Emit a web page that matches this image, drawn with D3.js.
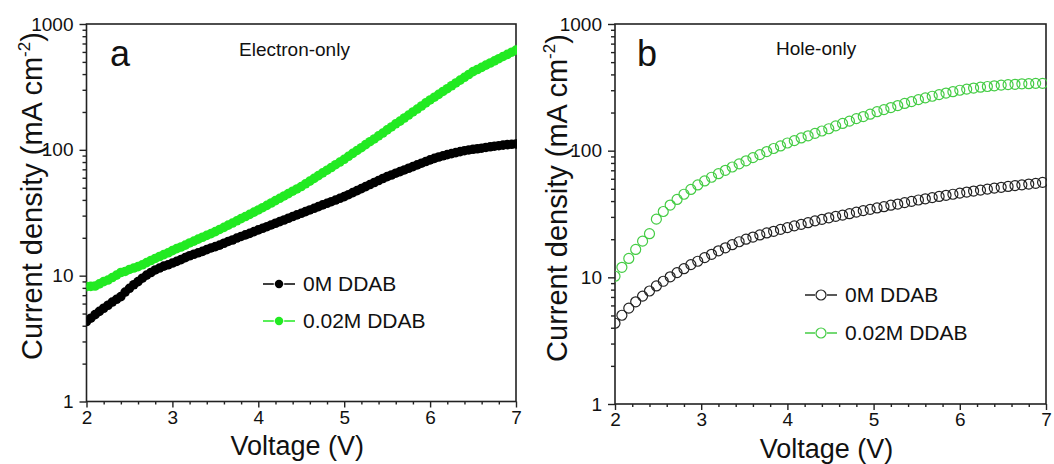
<!DOCTYPE html>
<html>
<head>
<meta charset="utf-8">
<script src="https://cdn.jsdelivr.net/npm/d3@7"></script>
<style>
  html, body { margin: 0; padding: 0; background: #fff; }
  svg { display: block; }
  text { font-family: "Liberation Sans", Arial, Helvetica, sans-serif; fill: #111; }
</style>
</head>
<body>
<svg id="chart" width="1054" height="464"></svg>
<script>
// ---------------- data ----------------
const xTicks = [2, 3, 4, 5, 6, 7];
const yTicks = [1, 10, 100, 1000];
const seriesNames = ["0M DDAB", "0.02M DDAB"];
const panelTitles = ["Electron-only", "Hole-only"];
const panelLetters = ["a", "b"];

// Panel a: voltage grid 2.00 ... 7.00 V, step 0.05 V
const voltageA = d3.range(0, 101).map(i => +(2 + i * 0.05).toFixed(2));
const electron0M = [4.32,4.59,4.90,5.20,5.51,5.82,6.17,6.49,6.82,7.41,7.94,
  8.47,8.97,9.55,10.1,10.6,11.1,11.5,11.9,12.2,12.6,
  13.0,13.4,13.9,14.4,14.8,15.2,15.6,16.1,16.6,17.0,
  17.5,18.1,18.7,19.2,19.9,20.5,21.1,21.7,22.4,23.1,
  23.8,24.5,25.3,26.1,26.9,27.7,28.6,29.5,30.4,31.3,
  32.3,33.3,34.3,35.4,36.5,37.6,38.7,39.9,41.2,42.5,
  44.0,45.7,47.4,49.2,51.0,53.0,55.0,57.0,59.2,61.2,
  63.1,65.2,67.1,69.2,71.4,73.6,75.9,78.3,80.7,83.2,
  85.5,87.7,89.7,91.6,93.3,95.1,96.8,98.4,99.8,101,
  102,103,104.5,105.7,106.9,107.9,108.9,109.9,110.7,111.4];
const electron002M = [8.18,8.22,8.28,8.61,8.97,9.23,9.66,10.1,10.6,10.8,11.2,
  11.5,11.8,12.2,12.7,13.2,13.7,14.2,14.7,15.2,15.8,
  16.4,16.9,17.5,18.2,18.8,19.5,20.2,20.9,21.6,22.4,
  23.3,24.2,25.2,26.2,27.3,28.4,29.5,30.7,32.0,33.3,
  34.7,36.2,37.8,39.5,41.2,43.0,44.9,46.9,48.9,51.1,
  53.7,56.4,59.3,62.4,65.6,68.9,72.4,76.2,80.0,84.1,
  88.8,93.8,98.9,104,110,116,122,129,136,144,
  152,161,169,179,189,200,211,223,236,249,
  262,276,291,306,323,340,358,377,397,418,
  435,452,471,490,509,530,552,574,597,621];

// Panel b: voltage grid 2.00 ... 6.96 V, step 0.08 V
const voltageB = d3.range(0, 63).map(i => +(2 + i * 0.08).toFixed(2));
const hole0M = [4.34,5.02,5.71,6.41,7.11,7.80,8.55,9.31,10.1,10.9,
  11.7,12.6,13.4,14.3,15.2,16.2,17.1,18.1,19.1,20.0,
  20.8,21.6,22.4,23.1,23.9,24.7,25.5,26.2,27.0,27.9,
  28.7,29.5,30.3,31.0,31.8,32.7,33.6,34.4,35.3,36.1,
  37.1,37.9,38.9,39.8,40.8,41.7,42.6,43.5,44.4,45.3,
  46.2,47.1,48.0,48.8,49.7,50.6,51.4,52.2,53.0,53.7,
  54.5,55.2,56.2];
const hole002M = [10.2,12.0,14.1,16.6,19.3,22.1,28.8,33.1,37.2,41.2,
  45.3,49.4,53.6,57.7,61.7,65.8,70.0,74.3,78.7,83.2,
  88.1,93.1,98.4,104,109,115,120,126,131,137,
  143,149,157,164,171,179,186,194,203,211,
  219,227,236,244,253,261,269,277,285,292,
  300,306,312,317,321,325,329,332,334,337,
  338,340,340];

// ---------------- drawing ----------------
const svg = d3.select("#chart");
const FONT = '"Liberation Sans", Arial, Helvetica, sans-serif';

function drawPanel(cfg) {
  const x = d3.scaleLinear().domain([2, 7]).range([cfg.left, cfg.right]);
  const y = d3.scaleLog().domain([1, 1000]).range([cfg.bottom, cfg.top]);
  const g = svg.append("g");

  // minor ticks
  const xMinor = d3.range(0, 26).map(i => +(2 + i * 0.2).toFixed(1)).filter(v => !xTicks.includes(v));
  const yMinor = [];
  [1, 10, 100].forEach(d => { for (let k = 2; k <= 9; k++) yMinor.push(d * k); });

  const xMinAx = g.append("g").attr("transform", `translate(0,${cfg.bottom})`)
    .call(d3.axisBottom(x).tickValues(xMinor).tickSize(3).tickSizeOuter(0).tickFormat(""));
  const yMinAx = g.append("g").attr("transform", `translate(${cfg.left},0)`)
    .call(d3.axisLeft(y).tickValues(yMinor).tickSize(4).tickSizeOuter(0).tickFormat(""));

  const xAx = g.append("g").attr("transform", `translate(0,${cfg.bottom})`)
    .call(d3.axisBottom(x).tickValues(xTicks).tickSize(6).tickSizeOuter(0).tickPadding(3)
      .tickFormat(d3.format("d")));
  const yAx = g.append("g").attr("transform", `translate(${cfg.left},0)`)
    .call(d3.axisLeft(y).tickValues(yTicks).tickSize(7).tickSizeOuter(0).tickPadding(6)
      .tickFormat(d3.format("d")));

  [xMinAx, yMinAx, xAx, yAx].forEach(a => {
    a.select(".domain").remove();
    a.selectAll(".tick line").attr("stroke", "#222").attr("stroke-width", 1.4);
    a.selectAll(".tick text").attr("font-family", FONT).attr("font-size", 19).attr("fill", "#111");
  });

  // frame
  g.append("rect")
    .attr("x", cfg.left).attr("y", cfg.top)
    .attr("width", cfg.right - cfg.left).attr("height", cfg.bottom - cfg.top)
    .attr("fill", "none").attr("stroke", "#222").attr("stroke-width", 1.6);

  // data
  const clipId = "clip" + cfg.id;
  svg.append("clipPath").attr("id", clipId).append("rect")
    .attr("x", cfg.left).attr("y", cfg.top - 2)
    .attr("width", cfg.right - cfg.left + 1).attr("height", cfg.bottom - cfg.top + 4);
  const dg = g.append("g").attr("clip-path", `url(#${clipId})`);

  cfg.series.forEach(s => {
    const pts = cfg.volts.map((v, i) => [v, s.values[i]]);
    if (cfg.filled) {
      dg.append("path").datum(pts)
        .attr("d", d3.line().x(d => x(d[0])).y(d => y(d[1])))
        .attr("fill", "none").attr("stroke", s.color).attr("stroke-width", 1.5);
      dg.append("g").selectAll("circle").data(pts).join("circle")
        .attr("cx", d => x(d[0])).attr("cy", d => y(d[1])).attr("r", 4.8)
        .attr("fill", s.color);
    } else {
      dg.append("g").selectAll("circle").data(pts).join("circle")
        .attr("cx", d => x(d[0])).attr("cy", d => y(d[1])).attr("r", 5)
        .attr("fill", "none").attr("stroke", s.color).attr("stroke-width", 1.2);
    }
  });

  // legend
  cfg.series.forEach((s, i) => {
    const ly = cfg.legY + i * cfg.legDy;
    const lx = cfg.legX;
    const r = cfg.filled ? 4.2 : 5;
    g.append("line").attr("x1", lx - 16).attr("x2", lx - r - 1).attr("y1", ly).attr("y2", ly)
      .attr("stroke", s.color).attr("stroke-width", 1.5);
    g.append("line").attr("x1", lx + r + 1).attr("x2", lx + 16).attr("y1", ly).attr("y2", ly)
      .attr("stroke", s.color).attr("stroke-width", 1.5);
    if (cfg.filled) {
      g.append("line").attr("x1", lx - r).attr("x2", lx + r).attr("y1", ly).attr("y2", ly)
        .attr("stroke", s.color).attr("stroke-width", 1.5);
      g.append("circle").attr("cx", lx).attr("cy", ly).attr("r", r).attr("fill", s.color);
    } else {
      g.append("circle").attr("cx", lx).attr("cy", ly).attr("r", r)
        .attr("fill", "none").attr("stroke", s.color).attr("stroke-width", 1.2);
    }
    g.append("text").attr("x", lx + 24).attr("y", ly + 7)
      .attr("font-size", 21).text(s.name);
  });

  // panel letter and title
  g.append("text").attr("x", cfg.letterX).attr("y", 66).attr("font-size", 36).text(cfg.letter);
  g.append("text").attr("x", cfg.titleX).attr("y", cfg.titleY).attr("font-size", 19).text(cfg.title);

  // axis titles
  g.append("text").attr("x", (cfg.left + cfg.right) / 2 - 4).attr("y", cfg.xTitleY)
    .attr("text-anchor", "middle").attr("font-size", 27).text("Voltage (V)");
  const yt = g.append("text")
    .attr("transform", `translate(${cfg.yTitleX},${cfg.yTitleY}) rotate(-90)`)
    .attr("text-anchor", "middle").attr("font-size", 29);
  yt.append("tspan").text("Current density (mA cm");
  yt.append("tspan").attr("font-size", 17).attr("dy", -12).text("-2");
  yt.append("tspan").attr("dy", 12).text(")");
}

drawPanel({
  id: "a", left: 86.5, right: 516, top: 24, bottom: 401.5,
  volts: voltageA, filled: true,
  series: [
    { name: seriesNames[0], values: electron0M, color: "#000000" },
    { name: seriesNames[1], values: electron002M, color: "#22ea22" }
  ],
  legX: 279, legY: 284, legDy: 37,
  letter: panelLetters[0], letterX: 110, title: panelTitles[0], titleX: 239, titleY: 56,
  yTitleX: 42, yTitleY: 196, xTitleY: 455
});

drawPanel({
  id: "b", left: 615, right: 1046, top: 24, bottom: 404,
  volts: voltageB, filled: false,
  series: [
    { name: seriesNames[0], values: hole0M, color: "#222222" },
    { name: seriesNames[1], values: hole002M, color: "#44cc44" }
  ],
  legX: 821, legY: 295, legDy: 38,
  letter: panelLetters[1], letterX: 637, title: panelTitles[1], titleX: 776, titleY: 55,
  yTitleX: 567, yTitleY: 198, xTitleY: 458
});
</script>
</body>
</html>
